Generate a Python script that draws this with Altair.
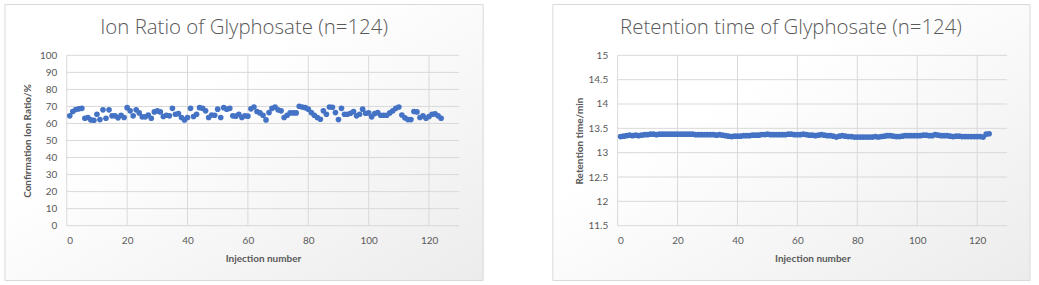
import altair as alt
import pandas as pd

injection = list(range(1, 125))

ion_ratio = [
    64.5, 67.0, 68.2, 68.6, 68.9, 63.1, 63.5, 62.1, 61.9, 65.4,
    62.3, 68.0, 63.1, 68.0, 64.5, 64.5, 63.3, 64.8, 63.5, 69.3,
    67.4, 64.5, 68.0, 66.2, 63.9, 63.9, 65.0, 63.1, 66.8, 67.4,
    66.8, 64.1, 64.8, 64.5, 68.9, 65.4, 65.8, 63.5, 62.1, 63.5,
    68.9, 64.1, 65.4, 69.3, 68.9, 67.4, 63.5, 65.0, 64.8, 68.4,
    63.5, 69.3, 68.4, 68.9, 64.5, 64.3, 65.4, 63.5, 64.5, 64.3,
    68.6, 69.7, 67.0, 66.2, 64.8, 62.1, 66.4, 68.9, 69.7, 68.0,
    67.4, 63.5, 64.8, 66.2, 66.2, 66.2, 70.1, 69.7, 69.3, 68.4,
    66.4, 64.8, 63.5, 62.5, 67.4, 65.4, 69.7, 69.5, 66.4, 62.3,
    68.9, 65.4, 65.4, 66.0, 67.0, 64.5, 65.4, 68.4, 66.0, 66.2,
    63.9, 65.8, 66.4, 64.8, 64.8, 64.8, 66.2, 67.4, 68.9, 69.7,
    65.0, 63.3, 62.3, 62.3, 67.0, 66.8, 63.5, 64.5, 63.1, 64.1,
    65.4, 65.6, 64.5, 63.1,
]

retention_time = [
    13.33, 13.34, 13.35, 13.36, 13.35, 13.36, 13.35, 13.36, 13.37, 13.37,
    13.38, 13.38, 13.37, 13.38, 13.38, 13.38, 13.38, 13.38, 13.38, 13.38,
    13.38, 13.38, 13.38, 13.38, 13.38, 13.37, 13.37, 13.37, 13.37, 13.37,
    13.37, 13.37, 13.36, 13.37, 13.36, 13.35, 13.34, 13.33, 13.34, 13.34,
    13.34, 13.35, 13.35, 13.35, 13.36, 13.36, 13.36, 13.37, 13.37, 13.38,
    13.37, 13.37, 13.37, 13.37, 13.37, 13.37, 13.38, 13.38, 13.37, 13.37,
    13.37, 13.38, 13.37, 13.36, 13.36, 13.35, 13.36, 13.37, 13.36, 13.35,
    13.35, 13.34, 13.32, 13.34, 13.35, 13.34, 13.33, 13.33, 13.32, 13.32,
    13.32, 13.32, 13.32, 13.32, 13.32, 13.33, 13.32, 13.33, 13.34, 13.35,
    13.35, 13.34, 13.33, 13.33, 13.34, 13.35, 13.35, 13.35, 13.35, 13.35,
    13.35, 13.36, 13.36, 13.35, 13.35, 13.37, 13.36, 13.35, 13.35, 13.35,
    13.34, 13.33, 13.34, 13.34, 13.33, 13.33, 13.33, 13.33, 13.33, 13.33,
    13.33, 13.32, 13.38, 13.39,
]

x_ticks = [0, 20, 40, 60, 80, 100, 120]
ion_ticks = [0, 10, 20, 30, 40, 50, 60, 70, 80, 90, 100]
rt_ticks = [11.5, 12, 12.5, 13, 13.5, 14, 14.5, 15]

ion_title = "Ion Ratio of Glyphosate (n=124)"
rt_title = "Retention time of Glyphosate (n=124)"
x_label = "Injection number"
ion_ylabel = "Confirmation Ion Ratio/%"
rt_ylabel = "Retention time/min"

GRID = "#d9d9d9"
TXT = "#595959"
BLUE = "#4472C4"
FONT = "Lato"
TITLE_FONT = "Open Sans"

gradient = alt.Gradient(
    gradient="linear",
    stops=[
        alt.GradientStop(color="#ffffff", offset=0),
        alt.GradientStop(color="#ffffff", offset=0.35),
        alt.GradientStop(color="#ececec", offset=1),
    ],
    x1=0, y1=0, x2=1, y2=1,
)


def panel(values, yticks, ydomain, title, ytitle, w, h, left, right, ytitlepad, title_dx):
    df = pd.DataFrame({"n": injection, "v": values})
    xs = alt.Scale(domain=[0, 130], nice=False, zero=False)
    ys = alt.Scale(domain=ydomain, nice=False, zero=False)
    xaxis = alt.Axis(
        values=x_ticks, grid=False, domain=False, ticks=False, zindex=1,
        title=x_label, labelFont=FONT, labelFontSize=10, labelColor=TXT,
        labelPadding=10, titleFont=FONT, titleFontSize=10, titleFontWeight="bold",
        titleColor=TXT, titlePadding=8,
    )
    yaxis = alt.Axis(
        values=yticks, grid=False, domain=False, ticks=False, zindex=1,
        labelExpr="toString(datum.value)",
        title=ytitle, labelFont=FONT, labelFontSize=10, labelColor=TXT,
        labelPadding=10, titleFont=FONT, titleFontSize=10, titleFontWeight="bold",
        titleColor=TXT, titlePadding=ytitlepad,
    )
    one = pd.DataFrame({"k": [0]})
    bg = alt.Chart(one).mark_rect(fill=gradient, stroke=GRID, strokeWidth=1).encode(
        x=alt.value(-left), x2=alt.value(w + right),
        y=alt.value(-51), y2=alt.value(h + 55),
    )
    hgrid = alt.Chart(pd.DataFrame({"t": yticks})).mark_rule(color=GRID, strokeWidth=1).encode(
        y=alt.Y("t:Q", scale=ys, axis=yaxis)
    )
    vgrid = alt.Chart(pd.DataFrame({"t": x_ticks})).mark_rule(color=GRID, strokeWidth=1).encode(
        x=alt.X("t:Q", scale=xs, axis=xaxis)
    )
    pts = alt.Chart(df).mark_circle(size=32, color=BLUE, opacity=1).encode(
        x=alt.X("n:Q", scale=xs, axis=xaxis),
        y=alt.Y("v:Q", scale=ys, axis=yaxis),
    )
    ttl = alt.Chart(one).mark_text(
        font=TITLE_FONT, fontSize=20.5, fontWeight=300, color=TXT,
        baseline="alphabetic", align="center",
    ).encode(
        x=alt.value(w / 2 - title_dx), y=alt.value(-21), text=alt.value(title)
    )
    return alt.layer(bg, hgrid, vgrid, pts, ttl).properties(width=w, height=h)


left = panel(ion_ratio, ion_ticks, [0, 100], ion_title, ion_ylabel,
             394, 171, 62, 24, 7, 19)
right = panel(retention_time, rt_ticks, [11.5, 15], rt_title, rt_ylabel,
              391, 171, 65, 23, 3, 21.5)

chart = alt.hconcat(left, right, spacing=68).properties(
    padding={"left": 4, "top": 3, "right": 8, "bottom": 5},
    background="#ffffff",
).configure_view(strokeWidth=0)

chart.save("out.html", embed_options={"renderer": "svg", "actions": False})
